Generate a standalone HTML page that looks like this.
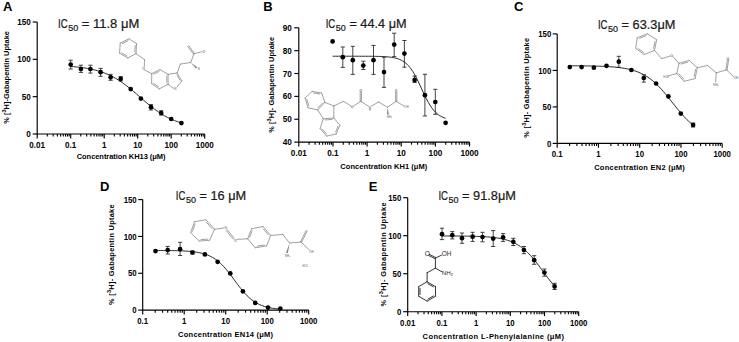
<!DOCTYPE html>
<html><head><meta charset="utf-8"><style>
html,body{margin:0;padding:0;background:#fff;}
svg{display:block;}
text{font-family:'Liberation Sans', sans-serif;}
</style></head><body>
<svg width="739" height="342" viewBox="0 0 739 342">
<rect width="739" height="342" fill="#fff"/>
<path d="M37.2,22.0 V134.0 H204.70" fill="none" stroke="#000" stroke-width="1.15"/>
<path d="M32.7,134.00 H37.2" stroke="#000" stroke-width="1.15"/>
<text transform="translate(30.70,137.10) scale(0.92,1)" font-size="8.8" font-weight="bold" text-anchor="end">0</text>
<path d="M32.7,96.67 H37.2" stroke="#000" stroke-width="1.15"/>
<text transform="translate(30.70,99.77) scale(0.92,1)" font-size="8.8" font-weight="bold" text-anchor="end">50</text>
<path d="M32.7,59.33 H37.2" stroke="#000" stroke-width="1.15"/>
<text transform="translate(30.70,62.43) scale(0.92,1)" font-size="8.8" font-weight="bold" text-anchor="end">100</text>
<path d="M32.7,22.00 H37.2" stroke="#000" stroke-width="1.15"/>
<text transform="translate(30.70,25.10) scale(0.92,1)" font-size="8.8" font-weight="bold" text-anchor="end">150</text>
<path d="M37.20,134.0 V138.4" stroke="#000" stroke-width="1.15"/>
<text transform="translate(37.20,148.30) scale(0.92,1)" font-size="8.8" font-weight="bold" text-anchor="middle">0.01</text>
<path d="M47.28,134.0 V136.6" stroke="#000" stroke-width="1.1"/>
<path d="M53.18,134.0 V136.6" stroke="#000" stroke-width="1.1"/>
<path d="M57.37,134.0 V136.6" stroke="#000" stroke-width="1.1"/>
<path d="M60.62,134.0 V136.6" stroke="#000" stroke-width="1.1"/>
<path d="M63.27,134.0 V136.6" stroke="#000" stroke-width="1.1"/>
<path d="M65.51,134.0 V136.6" stroke="#000" stroke-width="1.1"/>
<path d="M67.45,134.0 V136.6" stroke="#000" stroke-width="1.1"/>
<path d="M69.17,134.0 V136.6" stroke="#000" stroke-width="1.1"/>
<path d="M70.70,134.0 V138.4" stroke="#000" stroke-width="1.15"/>
<text transform="translate(70.70,148.30) scale(0.92,1)" font-size="8.8" font-weight="bold" text-anchor="middle">0.1</text>
<path d="M80.78,134.0 V136.6" stroke="#000" stroke-width="1.1"/>
<path d="M86.68,134.0 V136.6" stroke="#000" stroke-width="1.1"/>
<path d="M90.87,134.0 V136.6" stroke="#000" stroke-width="1.1"/>
<path d="M94.12,134.0 V136.6" stroke="#000" stroke-width="1.1"/>
<path d="M96.77,134.0 V136.6" stroke="#000" stroke-width="1.1"/>
<path d="M99.01,134.0 V136.6" stroke="#000" stroke-width="1.1"/>
<path d="M100.95,134.0 V136.6" stroke="#000" stroke-width="1.1"/>
<path d="M102.67,134.0 V136.6" stroke="#000" stroke-width="1.1"/>
<path d="M104.20,134.0 V138.4" stroke="#000" stroke-width="1.15"/>
<text transform="translate(104.20,148.30) scale(0.92,1)" font-size="8.8" font-weight="bold" text-anchor="middle">1</text>
<path d="M114.28,134.0 V136.6" stroke="#000" stroke-width="1.1"/>
<path d="M120.18,134.0 V136.6" stroke="#000" stroke-width="1.1"/>
<path d="M124.37,134.0 V136.6" stroke="#000" stroke-width="1.1"/>
<path d="M127.62,134.0 V136.6" stroke="#000" stroke-width="1.1"/>
<path d="M130.27,134.0 V136.6" stroke="#000" stroke-width="1.1"/>
<path d="M132.51,134.0 V136.6" stroke="#000" stroke-width="1.1"/>
<path d="M134.45,134.0 V136.6" stroke="#000" stroke-width="1.1"/>
<path d="M136.17,134.0 V136.6" stroke="#000" stroke-width="1.1"/>
<path d="M137.70,134.0 V138.4" stroke="#000" stroke-width="1.15"/>
<text transform="translate(137.70,148.30) scale(0.92,1)" font-size="8.8" font-weight="bold" text-anchor="middle">10</text>
<path d="M147.78,134.0 V136.6" stroke="#000" stroke-width="1.1"/>
<path d="M153.68,134.0 V136.6" stroke="#000" stroke-width="1.1"/>
<path d="M157.87,134.0 V136.6" stroke="#000" stroke-width="1.1"/>
<path d="M161.12,134.0 V136.6" stroke="#000" stroke-width="1.1"/>
<path d="M163.77,134.0 V136.6" stroke="#000" stroke-width="1.1"/>
<path d="M166.01,134.0 V136.6" stroke="#000" stroke-width="1.1"/>
<path d="M167.95,134.0 V136.6" stroke="#000" stroke-width="1.1"/>
<path d="M169.67,134.0 V136.6" stroke="#000" stroke-width="1.1"/>
<path d="M171.20,134.0 V138.4" stroke="#000" stroke-width="1.15"/>
<text transform="translate(171.20,148.30) scale(0.92,1)" font-size="8.8" font-weight="bold" text-anchor="middle">100</text>
<path d="M181.28,134.0 V136.6" stroke="#000" stroke-width="1.1"/>
<path d="M187.18,134.0 V136.6" stroke="#000" stroke-width="1.1"/>
<path d="M191.37,134.0 V136.6" stroke="#000" stroke-width="1.1"/>
<path d="M194.62,134.0 V136.6" stroke="#000" stroke-width="1.1"/>
<path d="M197.27,134.0 V136.6" stroke="#000" stroke-width="1.1"/>
<path d="M199.51,134.0 V136.6" stroke="#000" stroke-width="1.1"/>
<path d="M201.45,134.0 V136.6" stroke="#000" stroke-width="1.1"/>
<path d="M203.17,134.0 V136.6" stroke="#000" stroke-width="1.1"/>
<path d="M204.70,134.0 V138.4" stroke="#000" stroke-width="1.15"/>
<text transform="translate(204.70,148.30) scale(0.92,1)" font-size="8.8" font-weight="bold" text-anchor="middle">1000</text>
<text x="76.70" y="159.40" font-size="7.5" font-weight="bold" textLength="88.8" lengthAdjust="spacing">Concentration KH13 (μM)</text>
<text transform="translate(8.5,77.4) rotate(-90)" x="0" y="0" font-size="7.4" font-weight="bold" text-anchor="middle" textLength="92.8" lengthAdjust="spacing">% [<tspan baseline-shift="super" font-size="5.6">3</tspan>H]-Gabapentin Uptake</text>
<text x="2.9" y="10.8" font-size="13" font-weight="bold" text-anchor="start" fill="#000" >A</text>
<text x="58.1" y="28.3" font-size="12.6" font-weight="normal" text-anchor="start" fill="#1a1a1a" textLength="9.6" lengthAdjust="spacingAndGlyphs"  stroke="#1a1a1a" stroke-width="0.22">IC</text>
<text x="68.2" y="31.2" font-size="9" font-weight="normal" text-anchor="start" fill="#1a1a1a" textLength="10.0" lengthAdjust="spacingAndGlyphs"  stroke="#1a1a1a" stroke-width="0.22">50</text>
<text x="81.8" y="28.3" font-size="12.6" font-weight="normal" text-anchor="start" fill="#1a1a1a" textLength="57.5" lengthAdjust="spacingAndGlyphs"  stroke="#1a1a1a" stroke-width="0.22">= 11.8 μM</text>
<path d="M70.70,66.44 L72.10,66.55 L73.50,66.67 L74.90,66.79 L76.31,66.93 L77.71,67.07 L79.11,67.23 L80.51,67.40 L81.91,67.58 L83.31,67.77 L84.71,67.98 L86.11,68.20 L87.52,68.44 L88.92,68.70 L90.32,68.97 L91.72,69.26 L93.12,69.58 L94.52,69.91 L95.92,70.27 L97.32,70.65 L98.73,71.06 L100.13,71.49 L101.53,71.95 L102.93,72.44 L104.33,72.96 L105.73,73.51 L107.13,74.09 L108.53,74.71 L109.94,75.35 L111.34,76.04 L112.74,76.76 L114.14,77.51 L115.54,78.30 L116.94,79.13 L118.34,80.00 L119.74,80.90 L121.15,81.83 L122.55,82.81 L123.95,83.81 L125.35,84.85 L126.75,85.92 L128.15,87.01 L129.55,88.14 L130.95,89.28 L132.36,90.45 L133.76,91.64 L135.16,92.84 L136.56,94.06 L137.96,95.28 L139.36,96.51 L140.76,97.74 L142.16,98.96 L143.57,100.18 L144.97,101.39 L146.37,102.59 L147.77,103.77 L149.17,104.94 L150.57,106.08 L151.97,107.19 L153.37,108.28 L154.78,109.33 L156.18,110.36 L157.58,111.35 L158.98,112.31 L160.38,113.24 L161.78,114.13 L163.18,114.98 L164.58,115.79 L165.99,116.57 L167.39,117.32 L168.79,118.02 L170.19,118.69 L171.59,119.33 L172.99,119.94 L174.39,120.51 L175.79,121.05 L177.20,121.55 L178.60,122.03 L180.00,122.48 L181.40,122.91" fill="none" stroke="#111" stroke-width="0.9"/>
<path d="M70.70,60.20 V69.00 M68.60,60.20 H72.80 M68.60,69.00 H72.80" stroke="#222" stroke-width="0.85" fill="none"/>
<path d="M80.90,65.20 V72.40 M78.80,65.20 H83.00 M78.80,72.40 H83.00" stroke="#222" stroke-width="0.85" fill="none"/>
<path d="M90.40,65.20 V73.10 M88.30,65.20 H92.50 M88.30,73.10 H92.50" stroke="#222" stroke-width="0.85" fill="none"/>
<path d="M100.60,68.40 V76.30 M98.50,68.40 H102.70 M98.50,76.30 H102.70" stroke="#222" stroke-width="0.85" fill="none"/>
<path d="M110.60,74.40 V80.30 M108.50,74.40 H112.70 M108.50,80.30 H112.70" stroke="#222" stroke-width="0.85" fill="none"/>
<path d="M120.70,76.60 V81.00 M118.60,76.60 H122.80 M118.60,81.00 H122.80" stroke="#222" stroke-width="0.85" fill="none"/>
<path d="M151.00,104.60 V110.00 M148.90,104.60 H153.10 M148.90,110.00 H153.10" stroke="#222" stroke-width="0.85" fill="none"/>
<path d="M161.20,110.70 V115.10 M159.10,110.70 H163.30 M159.10,115.10 H163.30" stroke="#222" stroke-width="0.85" fill="none"/>
<circle cx="70.70" cy="64.60" r="2.35" fill="#000"/>
<circle cx="80.90" cy="69.00" r="2.35" fill="#000"/>
<circle cx="90.40" cy="69.00" r="2.35" fill="#000"/>
<circle cx="100.60" cy="72.20" r="2.35" fill="#000"/>
<circle cx="110.60" cy="77.30" r="2.35" fill="#000"/>
<circle cx="120.70" cy="78.80" r="2.35" fill="#000"/>
<circle cx="130.70" cy="89.10" r="2.35" fill="#000"/>
<circle cx="140.90" cy="98.60" r="2.35" fill="#000"/>
<circle cx="151.00" cy="107.20" r="2.35" fill="#000"/>
<circle cx="161.20" cy="113.00" r="2.35" fill="#000"/>
<circle cx="171.20" cy="119.00" r="2.35" fill="#000"/>
<circle cx="181.40" cy="123.10" r="2.35" fill="#000"/>
<path d="M298.8,27.8 V142.1 H469.55" fill="none" stroke="#000" stroke-width="1.15"/>
<path d="M294.3,142.10 H298.8" stroke="#000" stroke-width="1.15"/>
<text transform="translate(291.90,145.20) scale(0.92,1)" font-size="8.9" font-weight="bold" text-anchor="end">40</text>
<path d="M294.3,119.24 H298.8" stroke="#000" stroke-width="1.15"/>
<text transform="translate(291.90,122.34) scale(0.92,1)" font-size="8.9" font-weight="bold" text-anchor="end">50</text>
<path d="M294.3,96.38 H298.8" stroke="#000" stroke-width="1.15"/>
<text transform="translate(291.90,99.48) scale(0.92,1)" font-size="8.9" font-weight="bold" text-anchor="end">60</text>
<path d="M294.3,73.52 H298.8" stroke="#000" stroke-width="1.15"/>
<text transform="translate(291.90,76.62) scale(0.92,1)" font-size="8.9" font-weight="bold" text-anchor="end">70</text>
<path d="M294.3,50.66 H298.8" stroke="#000" stroke-width="1.15"/>
<text transform="translate(291.90,53.76) scale(0.92,1)" font-size="8.9" font-weight="bold" text-anchor="end">80</text>
<path d="M294.3,27.80 H298.8" stroke="#000" stroke-width="1.15"/>
<text transform="translate(291.90,30.90) scale(0.92,1)" font-size="8.9" font-weight="bold" text-anchor="end">90</text>
<path d="M298.80,142.1 V146.5" stroke="#000" stroke-width="1.15"/>
<text transform="translate(298.80,156.40) scale(0.92,1)" font-size="8.9" font-weight="bold" text-anchor="middle">0.01</text>
<path d="M309.08,142.1 V144.7" stroke="#000" stroke-width="1.1"/>
<path d="M315.09,142.1 V144.7" stroke="#000" stroke-width="1.1"/>
<path d="M319.36,142.1 V144.7" stroke="#000" stroke-width="1.1"/>
<path d="M322.67,142.1 V144.7" stroke="#000" stroke-width="1.1"/>
<path d="M325.37,142.1 V144.7" stroke="#000" stroke-width="1.1"/>
<path d="M327.66,142.1 V144.7" stroke="#000" stroke-width="1.1"/>
<path d="M329.64,142.1 V144.7" stroke="#000" stroke-width="1.1"/>
<path d="M331.39,142.1 V144.7" stroke="#000" stroke-width="1.1"/>
<path d="M332.95,142.1 V146.5" stroke="#000" stroke-width="1.15"/>
<text transform="translate(332.95,156.40) scale(0.92,1)" font-size="8.9" font-weight="bold" text-anchor="middle">0.1</text>
<path d="M343.23,142.1 V144.7" stroke="#000" stroke-width="1.1"/>
<path d="M349.24,142.1 V144.7" stroke="#000" stroke-width="1.1"/>
<path d="M353.51,142.1 V144.7" stroke="#000" stroke-width="1.1"/>
<path d="M356.82,142.1 V144.7" stroke="#000" stroke-width="1.1"/>
<path d="M359.52,142.1 V144.7" stroke="#000" stroke-width="1.1"/>
<path d="M361.81,142.1 V144.7" stroke="#000" stroke-width="1.1"/>
<path d="M363.79,142.1 V144.7" stroke="#000" stroke-width="1.1"/>
<path d="M365.54,142.1 V144.7" stroke="#000" stroke-width="1.1"/>
<path d="M367.10,142.1 V146.5" stroke="#000" stroke-width="1.15"/>
<text transform="translate(367.10,156.40) scale(0.92,1)" font-size="8.9" font-weight="bold" text-anchor="middle">1</text>
<path d="M377.38,142.1 V144.7" stroke="#000" stroke-width="1.1"/>
<path d="M383.39,142.1 V144.7" stroke="#000" stroke-width="1.1"/>
<path d="M387.66,142.1 V144.7" stroke="#000" stroke-width="1.1"/>
<path d="M390.97,142.1 V144.7" stroke="#000" stroke-width="1.1"/>
<path d="M393.67,142.1 V144.7" stroke="#000" stroke-width="1.1"/>
<path d="M395.96,142.1 V144.7" stroke="#000" stroke-width="1.1"/>
<path d="M397.94,142.1 V144.7" stroke="#000" stroke-width="1.1"/>
<path d="M399.69,142.1 V144.7" stroke="#000" stroke-width="1.1"/>
<path d="M401.25,142.1 V146.5" stroke="#000" stroke-width="1.15"/>
<text transform="translate(401.25,156.40) scale(0.92,1)" font-size="8.9" font-weight="bold" text-anchor="middle">10</text>
<path d="M411.53,142.1 V144.7" stroke="#000" stroke-width="1.1"/>
<path d="M417.54,142.1 V144.7" stroke="#000" stroke-width="1.1"/>
<path d="M421.81,142.1 V144.7" stroke="#000" stroke-width="1.1"/>
<path d="M425.12,142.1 V144.7" stroke="#000" stroke-width="1.1"/>
<path d="M427.82,142.1 V144.7" stroke="#000" stroke-width="1.1"/>
<path d="M430.11,142.1 V144.7" stroke="#000" stroke-width="1.1"/>
<path d="M432.09,142.1 V144.7" stroke="#000" stroke-width="1.1"/>
<path d="M433.84,142.1 V144.7" stroke="#000" stroke-width="1.1"/>
<path d="M435.40,142.1 V146.5" stroke="#000" stroke-width="1.15"/>
<text transform="translate(435.40,156.40) scale(0.92,1)" font-size="8.9" font-weight="bold" text-anchor="middle">100</text>
<path d="M445.68,142.1 V144.7" stroke="#000" stroke-width="1.1"/>
<path d="M451.69,142.1 V144.7" stroke="#000" stroke-width="1.1"/>
<path d="M455.96,142.1 V144.7" stroke="#000" stroke-width="1.1"/>
<path d="M459.27,142.1 V144.7" stroke="#000" stroke-width="1.1"/>
<path d="M461.97,142.1 V144.7" stroke="#000" stroke-width="1.1"/>
<path d="M464.26,142.1 V144.7" stroke="#000" stroke-width="1.1"/>
<path d="M466.24,142.1 V144.7" stroke="#000" stroke-width="1.1"/>
<path d="M467.99,142.1 V144.7" stroke="#000" stroke-width="1.1"/>
<path d="M469.55,142.1 V146.5" stroke="#000" stroke-width="1.15"/>
<text transform="translate(469.55,156.40) scale(0.92,1)" font-size="8.9" font-weight="bold" text-anchor="middle">1000</text>
<text x="340.30" y="168.50" font-size="7.5" font-weight="bold" textLength="87.0" lengthAdjust="spacing">Concentration KH1 (μM)</text>
<text transform="translate(273.6,84.8) rotate(-90)" x="0" y="0" font-size="7.4" font-weight="bold" text-anchor="middle" textLength="96.0" lengthAdjust="spacing">% [<tspan baseline-shift="super" font-size="5.6">3</tspan>H]- Gabapentin Uptake</text>
<text x="263.2" y="11.0" font-size="13" font-weight="bold" text-anchor="start" fill="#000" >B</text>
<text x="325.7" y="28.3" font-size="12.6" font-weight="normal" text-anchor="start" fill="#1a1a1a" textLength="9.6" lengthAdjust="spacingAndGlyphs"  stroke="#1a1a1a" stroke-width="0.22">IC</text>
<text x="335.8" y="31.2" font-size="9" font-weight="normal" text-anchor="start" fill="#1a1a1a" textLength="10.0" lengthAdjust="spacingAndGlyphs"  stroke="#1a1a1a" stroke-width="0.22">50</text>
<text x="349.4" y="28.3" font-size="12.6" font-weight="normal" text-anchor="start" fill="#1a1a1a" textLength="57.2" lengthAdjust="spacingAndGlyphs"  stroke="#1a1a1a" stroke-width="0.22">= 44.4 μM</text>
<path d="M332.60,56.22 L334.03,56.22 L335.46,56.22 L336.89,56.22 L338.32,56.22 L339.75,56.22 L341.18,56.22 L342.61,56.22 L344.04,56.22 L345.47,56.23 L346.90,56.23 L348.33,56.23 L349.76,56.23 L351.19,56.23 L352.63,56.23 L354.06,56.23 L355.49,56.23 L356.92,56.23 L358.35,56.24 L359.78,56.24 L361.21,56.24 L362.64,56.25 L364.07,56.25 L365.50,56.26 L366.93,56.26 L368.36,56.27 L369.79,56.28 L371.22,56.29 L372.65,56.31 L374.08,56.33 L375.51,56.35 L376.94,56.38 L378.37,56.41 L379.80,56.45 L381.23,56.50 L382.66,56.56 L384.09,56.63 L385.52,56.72 L386.95,56.82 L388.38,56.95 L389.82,57.10 L391.25,57.29 L392.68,57.51 L394.11,57.78 L395.54,58.10 L396.97,58.49 L398.40,58.95 L399.83,59.50 L401.26,60.16 L402.69,60.94 L404.12,61.86 L405.55,62.94 L406.98,64.19 L408.41,65.65 L409.84,67.31 L411.27,69.20 L412.70,71.32 L414.13,73.67 L415.56,76.24 L416.99,79.01 L418.42,81.93 L419.85,84.97 L421.28,88.07 L422.71,91.18 L424.14,94.24 L425.57,97.19 L427.01,100.00 L428.44,102.61 L429.87,105.01 L431.30,107.19 L432.73,109.13 L434.16,110.85 L435.59,112.35 L437.02,113.65 L438.45,114.77 L439.88,115.72 L441.31,116.53 L442.74,117.21 L444.17,117.79 L445.60,118.27" fill="none" stroke="#111" stroke-width="0.9"/>
<path d="M342.80,47.00 V67.40 M340.70,47.00 H344.90 M340.70,67.40 H344.90" stroke="#222" stroke-width="0.85" fill="none"/>
<path d="M352.80,46.30 V74.40 M350.70,46.30 H354.90 M350.70,74.40 H354.90" stroke="#222" stroke-width="0.85" fill="none"/>
<path d="M363.30,61.20 V69.50 M361.20,61.20 H365.40 M361.20,69.50 H365.40" stroke="#222" stroke-width="0.85" fill="none"/>
<path d="M373.50,45.40 V74.40 M371.40,45.40 H375.60 M371.40,74.40 H375.60" stroke="#222" stroke-width="0.85" fill="none"/>
<path d="M384.00,57.20 V87.40 M381.90,57.20 H386.10 M381.90,87.40 H386.10" stroke="#222" stroke-width="0.85" fill="none"/>
<path d="M394.20,33.20 V56.60 M392.10,33.20 H396.30 M392.10,56.60 H396.30" stroke="#222" stroke-width="0.85" fill="none"/>
<path d="M404.40,40.50 V67.20 M402.30,40.50 H406.50 M402.30,67.20 H406.50" stroke="#222" stroke-width="0.85" fill="none"/>
<path d="M414.60,76.00 V82.50 M412.50,76.00 H416.70 M412.50,82.50 H416.70" stroke="#222" stroke-width="0.85" fill="none"/>
<path d="M424.90,74.30 V116.00 M422.80,74.30 H427.00 M422.80,116.00 H427.00" stroke="#222" stroke-width="0.85" fill="none"/>
<path d="M435.30,89.30 V114.30 M433.20,89.30 H437.40 M433.20,114.30 H437.40" stroke="#222" stroke-width="0.85" fill="none"/>
<circle cx="332.60" cy="41.40" r="2.35" fill="#000"/>
<circle cx="342.80" cy="57.20" r="2.35" fill="#000"/>
<circle cx="352.80" cy="60.20" r="2.35" fill="#000"/>
<circle cx="363.30" cy="65.60" r="2.35" fill="#000"/>
<circle cx="373.50" cy="60.20" r="2.35" fill="#000"/>
<circle cx="384.00" cy="72.10" r="2.35" fill="#000"/>
<circle cx="394.20" cy="44.60" r="2.35" fill="#000"/>
<circle cx="404.40" cy="53.60" r="2.35" fill="#000"/>
<circle cx="414.60" cy="79.90" r="2.35" fill="#000"/>
<circle cx="424.90" cy="95.20" r="2.35" fill="#000"/>
<circle cx="435.30" cy="102.00" r="2.35" fill="#000"/>
<circle cx="445.60" cy="122.80" r="2.35" fill="#000"/>
<path d="M557.2,33.9 V143.4 H722.20" fill="none" stroke="#000" stroke-width="1.15"/>
<path d="M552.7,143.40 H557.2" stroke="#000" stroke-width="1.15"/>
<text transform="translate(551.30,146.50) scale(0.92,1)" font-size="8.5" font-weight="bold" text-anchor="end">0</text>
<path d="M552.7,106.90 H557.2" stroke="#000" stroke-width="1.15"/>
<text transform="translate(551.30,110.00) scale(0.92,1)" font-size="8.5" font-weight="bold" text-anchor="end">50</text>
<path d="M552.7,70.40 H557.2" stroke="#000" stroke-width="1.15"/>
<text transform="translate(551.30,73.50) scale(0.92,1)" font-size="8.5" font-weight="bold" text-anchor="end">100</text>
<path d="M552.7,33.90 H557.2" stroke="#000" stroke-width="1.15"/>
<text transform="translate(551.30,37.00) scale(0.92,1)" font-size="8.5" font-weight="bold" text-anchor="end">150</text>
<path d="M557.20,143.4 V147.8" stroke="#000" stroke-width="1.15"/>
<text transform="translate(557.20,157.00) scale(0.92,1)" font-size="8.5" font-weight="bold" text-anchor="middle">0.1</text>
<path d="M569.62,143.4 V146.0" stroke="#000" stroke-width="1.1"/>
<path d="M576.88,143.4 V146.0" stroke="#000" stroke-width="1.1"/>
<path d="M582.03,143.4 V146.0" stroke="#000" stroke-width="1.1"/>
<path d="M586.03,143.4 V146.0" stroke="#000" stroke-width="1.1"/>
<path d="M589.30,143.4 V146.0" stroke="#000" stroke-width="1.1"/>
<path d="M592.06,143.4 V146.0" stroke="#000" stroke-width="1.1"/>
<path d="M594.45,143.4 V146.0" stroke="#000" stroke-width="1.1"/>
<path d="M596.56,143.4 V146.0" stroke="#000" stroke-width="1.1"/>
<path d="M598.45,143.4 V147.8" stroke="#000" stroke-width="1.15"/>
<text transform="translate(598.45,157.00) scale(0.92,1)" font-size="8.5" font-weight="bold" text-anchor="middle">1</text>
<path d="M610.87,143.4 V146.0" stroke="#000" stroke-width="1.1"/>
<path d="M618.13,143.4 V146.0" stroke="#000" stroke-width="1.1"/>
<path d="M623.28,143.4 V146.0" stroke="#000" stroke-width="1.1"/>
<path d="M627.28,143.4 V146.0" stroke="#000" stroke-width="1.1"/>
<path d="M630.55,143.4 V146.0" stroke="#000" stroke-width="1.1"/>
<path d="M633.31,143.4 V146.0" stroke="#000" stroke-width="1.1"/>
<path d="M635.70,143.4 V146.0" stroke="#000" stroke-width="1.1"/>
<path d="M637.81,143.4 V146.0" stroke="#000" stroke-width="1.1"/>
<path d="M639.70,143.4 V147.8" stroke="#000" stroke-width="1.15"/>
<text transform="translate(639.70,157.00) scale(0.92,1)" font-size="8.5" font-weight="bold" text-anchor="middle">10</text>
<path d="M652.12,143.4 V146.0" stroke="#000" stroke-width="1.1"/>
<path d="M659.38,143.4 V146.0" stroke="#000" stroke-width="1.1"/>
<path d="M664.53,143.4 V146.0" stroke="#000" stroke-width="1.1"/>
<path d="M668.53,143.4 V146.0" stroke="#000" stroke-width="1.1"/>
<path d="M671.80,143.4 V146.0" stroke="#000" stroke-width="1.1"/>
<path d="M674.56,143.4 V146.0" stroke="#000" stroke-width="1.1"/>
<path d="M676.95,143.4 V146.0" stroke="#000" stroke-width="1.1"/>
<path d="M679.06,143.4 V146.0" stroke="#000" stroke-width="1.1"/>
<path d="M680.95,143.4 V147.8" stroke="#000" stroke-width="1.15"/>
<text transform="translate(680.95,157.00) scale(0.92,1)" font-size="8.5" font-weight="bold" text-anchor="middle">100</text>
<path d="M693.37,143.4 V146.0" stroke="#000" stroke-width="1.1"/>
<path d="M700.63,143.4 V146.0" stroke="#000" stroke-width="1.1"/>
<path d="M705.78,143.4 V146.0" stroke="#000" stroke-width="1.1"/>
<path d="M709.78,143.4 V146.0" stroke="#000" stroke-width="1.1"/>
<path d="M713.05,143.4 V146.0" stroke="#000" stroke-width="1.1"/>
<path d="M715.81,143.4 V146.0" stroke="#000" stroke-width="1.1"/>
<path d="M718.20,143.4 V146.0" stroke="#000" stroke-width="1.1"/>
<path d="M720.31,143.4 V146.0" stroke="#000" stroke-width="1.1"/>
<path d="M722.20,143.4 V147.8" stroke="#000" stroke-width="1.15"/>
<text transform="translate(722.20,157.00) scale(0.92,1)" font-size="8.5" font-weight="bold" text-anchor="middle">1000</text>
<text x="594.20" y="169.60" font-size="7.5" font-weight="bold" textLength="90.5" lengthAdjust="spacing">Concentration EN2 (μM)</text>
<text transform="translate(528.8,87.8) rotate(-90)" x="0" y="0" font-size="7.4" font-weight="bold" text-anchor="middle" textLength="99.8" lengthAdjust="spacing">% [<tspan baseline-shift="super" font-size="5.6">3</tspan>H]- Gabapentin Uptake</text>
<text x="514.0" y="11.4" font-size="13" font-weight="bold" text-anchor="start" fill="#000" >C</text>
<text x="597.9" y="29.1" font-size="12.6" font-weight="normal" text-anchor="start" fill="#1a1a1a" textLength="9.6" lengthAdjust="spacingAndGlyphs"  stroke="#1a1a1a" stroke-width="0.22">IC</text>
<text x="608.0" y="32.0" font-size="9" font-weight="normal" text-anchor="start" fill="#1a1a1a" textLength="10.0" lengthAdjust="spacingAndGlyphs"  stroke="#1a1a1a" stroke-width="0.22">50</text>
<text x="621.6" y="29.1" font-size="12.6" font-weight="normal" text-anchor="start" fill="#1a1a1a" textLength="53.8" lengthAdjust="spacingAndGlyphs"  stroke="#1a1a1a" stroke-width="0.22">= 63.3μM</text>
<path d="M569.80,65.79 L571.36,65.79 L572.92,65.80 L574.48,65.81 L576.04,65.82 L577.60,65.83 L579.16,65.85 L580.73,65.86 L582.29,65.87 L583.85,65.89 L585.41,65.91 L586.97,65.93 L588.53,65.95 L590.09,65.98 L591.65,66.01 L593.21,66.04 L594.77,66.08 L596.33,66.12 L597.89,66.16 L599.45,66.21 L601.02,66.27 L602.58,66.33 L604.14,66.39 L605.70,66.47 L607.26,66.55 L608.82,66.65 L610.38,66.75 L611.94,66.86 L613.50,66.99 L615.06,67.13 L616.62,67.29 L618.18,67.46 L619.74,67.65 L621.31,67.86 L622.87,68.10 L624.43,68.36 L625.99,68.64 L627.55,68.96 L629.11,69.31 L630.67,69.69 L632.23,70.11 L633.79,70.58 L635.35,71.09 L636.91,71.64 L638.47,72.25 L640.03,72.92 L641.59,73.65 L643.16,74.44 L644.72,75.30 L646.28,76.23 L647.84,77.23 L649.40,78.31 L650.96,79.47 L652.52,80.71 L654.08,82.03 L655.64,83.43 L657.20,84.92 L658.76,86.48 L660.32,88.11 L661.88,89.82 L663.45,91.59 L665.01,93.42 L666.57,95.30 L668.13,97.21 L669.69,99.16 L671.25,101.13 L672.81,103.11 L674.37,105.08 L675.93,107.04 L677.49,108.97 L679.05,110.87 L680.61,112.72 L682.17,114.52 L683.74,116.26 L685.30,117.93 L686.86,119.52 L688.42,121.04 L689.98,122.49 L691.54,123.85 L693.10,125.12" fill="none" stroke="#111" stroke-width="0.9"/>
<path d="M618.80,56.30 V67.30 M616.70,56.30 H620.90 M616.70,67.30 H620.90" stroke="#222" stroke-width="0.85" fill="none"/>
<path d="M643.80,74.70 V82.10 M641.70,74.70 H645.90 M641.70,82.10 H645.90" stroke="#222" stroke-width="0.85" fill="none"/>
<path d="M693.10,123.00 V127.00 M691.00,123.00 H695.20 M691.00,127.00 H695.20" stroke="#222" stroke-width="0.85" fill="none"/>
<circle cx="569.80" cy="67.10" r="2.35" fill="#000"/>
<circle cx="581.60" cy="67.10" r="2.35" fill="#000"/>
<circle cx="593.90" cy="67.70" r="2.35" fill="#000"/>
<circle cx="606.50" cy="65.80" r="2.35" fill="#000"/>
<circle cx="618.80" cy="61.70" r="2.35" fill="#000"/>
<circle cx="631.40" cy="70.00" r="2.35" fill="#000"/>
<circle cx="643.80" cy="78.00" r="2.35" fill="#000"/>
<circle cx="656.10" cy="83.50" r="2.35" fill="#000"/>
<circle cx="668.40" cy="96.40" r="2.35" fill="#000"/>
<circle cx="680.80" cy="113.60" r="2.35" fill="#000"/>
<circle cx="693.10" cy="125.00" r="2.35" fill="#000"/>
<path d="M142.7,199.6 V310.1 H308.70" fill="none" stroke="#000" stroke-width="1.15"/>
<path d="M138.2,310.10 H142.7" stroke="#000" stroke-width="1.15"/>
<text transform="translate(136.70,313.20) scale(0.92,1)" font-size="8.5" font-weight="bold" text-anchor="end">0</text>
<path d="M138.2,273.27 H142.7" stroke="#000" stroke-width="1.15"/>
<text transform="translate(136.70,276.37) scale(0.92,1)" font-size="8.5" font-weight="bold" text-anchor="end">50</text>
<path d="M138.2,236.43 H142.7" stroke="#000" stroke-width="1.15"/>
<text transform="translate(136.70,239.53) scale(0.92,1)" font-size="8.5" font-weight="bold" text-anchor="end">100</text>
<path d="M138.2,199.60 H142.7" stroke="#000" stroke-width="1.15"/>
<text transform="translate(136.70,202.70) scale(0.92,1)" font-size="8.5" font-weight="bold" text-anchor="end">150</text>
<path d="M142.70,310.1 V314.5" stroke="#000" stroke-width="1.15"/>
<text transform="translate(142.70,324.20) scale(0.92,1)" font-size="8.5" font-weight="bold" text-anchor="middle">0.1</text>
<path d="M155.19,310.1 V312.70000000000005" stroke="#000" stroke-width="1.1"/>
<path d="M162.50,310.1 V312.70000000000005" stroke="#000" stroke-width="1.1"/>
<path d="M167.69,310.1 V312.70000000000005" stroke="#000" stroke-width="1.1"/>
<path d="M171.71,310.1 V312.70000000000005" stroke="#000" stroke-width="1.1"/>
<path d="M174.99,310.1 V312.70000000000005" stroke="#000" stroke-width="1.1"/>
<path d="M177.77,310.1 V312.70000000000005" stroke="#000" stroke-width="1.1"/>
<path d="M180.18,310.1 V312.70000000000005" stroke="#000" stroke-width="1.1"/>
<path d="M182.30,310.1 V312.70000000000005" stroke="#000" stroke-width="1.1"/>
<path d="M184.20,310.1 V314.5" stroke="#000" stroke-width="1.15"/>
<text transform="translate(184.20,324.20) scale(0.92,1)" font-size="8.5" font-weight="bold" text-anchor="middle">1</text>
<path d="M196.69,310.1 V312.70000000000005" stroke="#000" stroke-width="1.1"/>
<path d="M204.00,310.1 V312.70000000000005" stroke="#000" stroke-width="1.1"/>
<path d="M209.19,310.1 V312.70000000000005" stroke="#000" stroke-width="1.1"/>
<path d="M213.21,310.1 V312.70000000000005" stroke="#000" stroke-width="1.1"/>
<path d="M216.49,310.1 V312.70000000000005" stroke="#000" stroke-width="1.1"/>
<path d="M219.27,310.1 V312.70000000000005" stroke="#000" stroke-width="1.1"/>
<path d="M221.68,310.1 V312.70000000000005" stroke="#000" stroke-width="1.1"/>
<path d="M223.80,310.1 V312.70000000000005" stroke="#000" stroke-width="1.1"/>
<path d="M225.70,310.1 V314.5" stroke="#000" stroke-width="1.15"/>
<text transform="translate(225.70,324.20) scale(0.92,1)" font-size="8.5" font-weight="bold" text-anchor="middle">10</text>
<path d="M238.19,310.1 V312.70000000000005" stroke="#000" stroke-width="1.1"/>
<path d="M245.50,310.1 V312.70000000000005" stroke="#000" stroke-width="1.1"/>
<path d="M250.69,310.1 V312.70000000000005" stroke="#000" stroke-width="1.1"/>
<path d="M254.71,310.1 V312.70000000000005" stroke="#000" stroke-width="1.1"/>
<path d="M257.99,310.1 V312.70000000000005" stroke="#000" stroke-width="1.1"/>
<path d="M260.77,310.1 V312.70000000000005" stroke="#000" stroke-width="1.1"/>
<path d="M263.18,310.1 V312.70000000000005" stroke="#000" stroke-width="1.1"/>
<path d="M265.30,310.1 V312.70000000000005" stroke="#000" stroke-width="1.1"/>
<path d="M267.20,310.1 V314.5" stroke="#000" stroke-width="1.15"/>
<text transform="translate(267.20,324.20) scale(0.92,1)" font-size="8.5" font-weight="bold" text-anchor="middle">100</text>
<path d="M279.69,310.1 V312.70000000000005" stroke="#000" stroke-width="1.1"/>
<path d="M287.00,310.1 V312.70000000000005" stroke="#000" stroke-width="1.1"/>
<path d="M292.19,310.1 V312.70000000000005" stroke="#000" stroke-width="1.1"/>
<path d="M296.21,310.1 V312.70000000000005" stroke="#000" stroke-width="1.1"/>
<path d="M299.49,310.1 V312.70000000000005" stroke="#000" stroke-width="1.1"/>
<path d="M302.27,310.1 V312.70000000000005" stroke="#000" stroke-width="1.1"/>
<path d="M304.68,310.1 V312.70000000000005" stroke="#000" stroke-width="1.1"/>
<path d="M306.80,310.1 V312.70000000000005" stroke="#000" stroke-width="1.1"/>
<path d="M308.70,310.1 V314.5" stroke="#000" stroke-width="1.15"/>
<text transform="translate(308.70,324.20) scale(0.92,1)" font-size="8.5" font-weight="bold" text-anchor="middle">1000</text>
<text x="178.10" y="336.70" font-size="7.5" font-weight="bold" textLength="95.0" lengthAdjust="spacing">Concentration EN14 (μM)</text>
<text transform="translate(113.8,254.7) rotate(-90)" x="0" y="0" font-size="7.4" font-weight="bold" text-anchor="middle" textLength="100.6" lengthAdjust="spacing">% [<tspan baseline-shift="super" font-size="5.6">3</tspan>H]- Gabapentin Uptake</text>
<text x="100.0" y="190.8" font-size="13" font-weight="bold" text-anchor="start" fill="#000" >D</text>
<text x="175.8" y="199.6" font-size="12.6" font-weight="normal" text-anchor="start" fill="#1a1a1a" textLength="9.6" lengthAdjust="spacingAndGlyphs"  stroke="#1a1a1a" stroke-width="0.22">IC</text>
<text x="185.9" y="202.5" font-size="9" font-weight="normal" text-anchor="start" fill="#1a1a1a" textLength="10.0" lengthAdjust="spacingAndGlyphs"  stroke="#1a1a1a" stroke-width="0.22">50</text>
<text x="199.5" y="199.6" font-size="12.6" font-weight="normal" text-anchor="start" fill="#1a1a1a" textLength="46.7" lengthAdjust="spacingAndGlyphs"  stroke="#1a1a1a" stroke-width="0.22">= 16 μM</text>
<path d="M155.50,250.44 L157.08,250.44 L158.66,250.45 L160.24,250.46 L161.82,250.47 L163.40,250.48 L164.98,250.50 L166.56,250.51 L168.14,250.53 L169.72,250.55 L171.30,250.58 L172.88,250.60 L174.46,250.64 L176.04,250.68 L177.62,250.72 L179.20,250.77 L180.78,250.83 L182.36,250.89 L183.94,250.97 L185.52,251.06 L187.09,251.16 L188.67,251.28 L190.25,251.42 L191.83,251.57 L193.41,251.75 L194.99,251.96 L196.57,252.19 L198.15,252.46 L199.73,252.77 L201.31,253.12 L202.89,253.52 L204.47,253.98 L206.05,254.50 L207.63,255.09 L209.21,255.75 L210.79,256.50 L212.37,257.34 L213.95,258.28 L215.53,259.32 L217.11,260.48 L218.69,261.74 L220.27,263.13 L221.85,264.64 L223.43,266.27 L225.01,268.01 L226.59,269.85 L228.17,271.79 L229.75,273.81 L231.33,275.90 L232.91,278.03 L234.49,280.18 L236.07,282.33 L237.65,284.46 L239.23,286.55 L240.81,288.57 L242.39,290.51 L243.97,292.36 L245.55,294.11 L247.13,295.74 L248.71,297.25 L250.28,298.64 L251.86,299.91 L253.44,301.07 L255.02,302.12 L256.60,303.06 L258.18,303.90 L259.76,304.66 L261.34,305.32 L262.92,305.91 L264.50,306.44 L266.08,306.90 L267.66,307.30 L269.24,307.65 L270.82,307.97 L272.40,308.24 L273.98,308.47 L275.56,308.68 L277.14,308.86 L278.72,309.02 L280.30,309.15" fill="none" stroke="#111" stroke-width="0.9"/>
<path d="M167.70,246.40 V254.00 M165.60,246.40 H169.80 M165.60,254.00 H169.80" stroke="#222" stroke-width="0.85" fill="none"/>
<path d="M180.10,242.30 V255.50 M178.00,242.30 H182.20 M178.00,255.50 H182.20" stroke="#222" stroke-width="0.85" fill="none"/>
<path d="M192.50,251.00 V254.00 M190.40,251.00 H194.60 M190.40,254.00 H194.60" stroke="#222" stroke-width="0.85" fill="none"/>
<circle cx="155.50" cy="251.10" r="2.35" fill="#000"/>
<circle cx="167.70" cy="250.10" r="2.35" fill="#000"/>
<circle cx="180.10" cy="249.20" r="2.35" fill="#000"/>
<circle cx="192.50" cy="252.50" r="2.35" fill="#000"/>
<circle cx="204.90" cy="254.40" r="2.35" fill="#000"/>
<circle cx="217.60" cy="261.80" r="2.35" fill="#000"/>
<circle cx="230.30" cy="273.40" r="2.35" fill="#000"/>
<circle cx="242.90" cy="291.30" r="2.35" fill="#000"/>
<circle cx="255.20" cy="302.90" r="2.35" fill="#000"/>
<circle cx="268.00" cy="307.60" r="2.35" fill="#000"/>
<circle cx="280.30" cy="308.50" r="2.35" fill="#000"/>
<path d="M407.7,197.7 V311.7 H578.70" fill="none" stroke="#000" stroke-width="1.15"/>
<path d="M403.2,311.70 H407.7" stroke="#000" stroke-width="1.15"/>
<text transform="translate(401.30,314.80) scale(0.92,1)" font-size="8.5" font-weight="bold" text-anchor="end">0</text>
<path d="M403.2,273.70 H407.7" stroke="#000" stroke-width="1.15"/>
<text transform="translate(401.30,276.80) scale(0.92,1)" font-size="8.5" font-weight="bold" text-anchor="end">50</text>
<path d="M403.2,235.70 H407.7" stroke="#000" stroke-width="1.15"/>
<text transform="translate(401.30,238.80) scale(0.92,1)" font-size="8.5" font-weight="bold" text-anchor="end">100</text>
<path d="M403.2,197.70 H407.7" stroke="#000" stroke-width="1.15"/>
<text transform="translate(401.30,200.80) scale(0.92,1)" font-size="8.5" font-weight="bold" text-anchor="end">150</text>
<path d="M407.70,311.7 V316.09999999999997" stroke="#000" stroke-width="1.15"/>
<text transform="translate(407.70,326.00) scale(0.92,1)" font-size="8.5" font-weight="bold" text-anchor="middle">0.01</text>
<path d="M418.00,311.7 V314.3" stroke="#000" stroke-width="1.1"/>
<path d="M424.02,311.7 V314.3" stroke="#000" stroke-width="1.1"/>
<path d="M428.29,311.7 V314.3" stroke="#000" stroke-width="1.1"/>
<path d="M431.60,311.7 V314.3" stroke="#000" stroke-width="1.1"/>
<path d="M434.31,311.7 V314.3" stroke="#000" stroke-width="1.1"/>
<path d="M436.60,311.7 V314.3" stroke="#000" stroke-width="1.1"/>
<path d="M438.59,311.7 V314.3" stroke="#000" stroke-width="1.1"/>
<path d="M440.34,311.7 V314.3" stroke="#000" stroke-width="1.1"/>
<path d="M441.90,311.7 V316.09999999999997" stroke="#000" stroke-width="1.15"/>
<text transform="translate(441.90,326.00) scale(0.92,1)" font-size="8.5" font-weight="bold" text-anchor="middle">0.1</text>
<path d="M452.20,311.7 V314.3" stroke="#000" stroke-width="1.1"/>
<path d="M458.22,311.7 V314.3" stroke="#000" stroke-width="1.1"/>
<path d="M462.49,311.7 V314.3" stroke="#000" stroke-width="1.1"/>
<path d="M465.80,311.7 V314.3" stroke="#000" stroke-width="1.1"/>
<path d="M468.51,311.7 V314.3" stroke="#000" stroke-width="1.1"/>
<path d="M470.80,311.7 V314.3" stroke="#000" stroke-width="1.1"/>
<path d="M472.79,311.7 V314.3" stroke="#000" stroke-width="1.1"/>
<path d="M474.54,311.7 V314.3" stroke="#000" stroke-width="1.1"/>
<path d="M476.10,311.7 V316.09999999999997" stroke="#000" stroke-width="1.15"/>
<text transform="translate(476.10,326.00) scale(0.92,1)" font-size="8.5" font-weight="bold" text-anchor="middle">1</text>
<path d="M486.40,311.7 V314.3" stroke="#000" stroke-width="1.1"/>
<path d="M492.42,311.7 V314.3" stroke="#000" stroke-width="1.1"/>
<path d="M496.69,311.7 V314.3" stroke="#000" stroke-width="1.1"/>
<path d="M500.00,311.7 V314.3" stroke="#000" stroke-width="1.1"/>
<path d="M502.71,311.7 V314.3" stroke="#000" stroke-width="1.1"/>
<path d="M505.00,311.7 V314.3" stroke="#000" stroke-width="1.1"/>
<path d="M506.99,311.7 V314.3" stroke="#000" stroke-width="1.1"/>
<path d="M508.74,311.7 V314.3" stroke="#000" stroke-width="1.1"/>
<path d="M510.30,311.7 V316.09999999999997" stroke="#000" stroke-width="1.15"/>
<text transform="translate(510.30,326.00) scale(0.92,1)" font-size="8.5" font-weight="bold" text-anchor="middle">10</text>
<path d="M520.60,311.7 V314.3" stroke="#000" stroke-width="1.1"/>
<path d="M526.62,311.7 V314.3" stroke="#000" stroke-width="1.1"/>
<path d="M530.89,311.7 V314.3" stroke="#000" stroke-width="1.1"/>
<path d="M534.20,311.7 V314.3" stroke="#000" stroke-width="1.1"/>
<path d="M536.91,311.7 V314.3" stroke="#000" stroke-width="1.1"/>
<path d="M539.20,311.7 V314.3" stroke="#000" stroke-width="1.1"/>
<path d="M541.19,311.7 V314.3" stroke="#000" stroke-width="1.1"/>
<path d="M542.94,311.7 V314.3" stroke="#000" stroke-width="1.1"/>
<path d="M544.50,311.7 V316.09999999999997" stroke="#000" stroke-width="1.15"/>
<text transform="translate(544.50,326.00) scale(0.92,1)" font-size="8.5" font-weight="bold" text-anchor="middle">100</text>
<path d="M554.80,311.7 V314.3" stroke="#000" stroke-width="1.1"/>
<path d="M560.82,311.7 V314.3" stroke="#000" stroke-width="1.1"/>
<path d="M565.09,311.7 V314.3" stroke="#000" stroke-width="1.1"/>
<path d="M568.40,311.7 V314.3" stroke="#000" stroke-width="1.1"/>
<path d="M571.11,311.7 V314.3" stroke="#000" stroke-width="1.1"/>
<path d="M573.40,311.7 V314.3" stroke="#000" stroke-width="1.1"/>
<path d="M575.39,311.7 V314.3" stroke="#000" stroke-width="1.1"/>
<path d="M577.14,311.7 V314.3" stroke="#000" stroke-width="1.1"/>
<path d="M578.70,311.7 V316.09999999999997" stroke="#000" stroke-width="1.15"/>
<text transform="translate(578.70,326.00) scale(0.92,1)" font-size="8.5" font-weight="bold" text-anchor="middle">1000</text>
<text x="422.60" y="338.80" font-size="7.5" font-weight="bold" textLength="141.3" lengthAdjust="spacing">Concentration L-Phenylalanine (μM)</text>
<text transform="translate(385.9,254.5) rotate(-90)" x="0" y="0" font-size="7.4" font-weight="bold" text-anchor="middle" textLength="104.2" lengthAdjust="spacing">% [<tspan baseline-shift="super" font-size="5.6">3</tspan>H]- Gabapentin Uptake</text>
<text x="368.8" y="190.8" font-size="13" font-weight="bold" text-anchor="start" fill="#000" >E</text>
<text x="438.4" y="199.9" font-size="12.6" font-weight="normal" text-anchor="start" fill="#1a1a1a" textLength="9.6" lengthAdjust="spacingAndGlyphs"  stroke="#1a1a1a" stroke-width="0.22">IC</text>
<text x="448.5" y="202.8" font-size="9" font-weight="normal" text-anchor="start" fill="#1a1a1a" textLength="10.0" lengthAdjust="spacingAndGlyphs"  stroke="#1a1a1a" stroke-width="0.22">50</text>
<text x="462.09999999999997" y="199.9" font-size="12.6" font-weight="normal" text-anchor="start" fill="#1a1a1a" textLength="53.8" lengthAdjust="spacingAndGlyphs"  stroke="#1a1a1a" stroke-width="0.22">= 91.8μM</text>
<path d="M442.00,235.96 L443.43,235.97 L444.85,235.97 L446.28,235.98 L447.70,235.98 L449.13,235.99 L450.55,235.99 L451.98,236.00 L453.40,236.01 L454.83,236.02 L456.25,236.02 L457.68,236.04 L459.10,236.05 L460.53,236.06 L461.95,236.07 L463.38,236.09 L464.81,236.11 L466.23,236.13 L467.66,236.15 L469.08,236.18 L470.51,236.20 L471.93,236.23 L473.36,236.27 L474.78,236.31 L476.21,236.35 L477.63,236.40 L479.06,236.45 L480.48,236.51 L481.91,236.58 L483.33,236.65 L484.76,236.73 L486.18,236.82 L487.61,236.93 L489.04,237.04 L490.46,237.16 L491.89,237.30 L493.31,237.46 L494.74,237.63 L496.16,237.82 L497.59,238.03 L499.01,238.27 L500.44,238.53 L501.86,238.81 L503.29,239.13 L504.71,239.48 L506.14,239.87 L507.56,240.29 L508.99,240.76 L510.42,241.28 L511.84,241.85 L513.27,242.47 L514.69,243.15 L516.12,243.89 L517.54,244.69 L518.97,245.57 L520.39,246.51 L521.82,247.54 L523.24,248.64 L524.67,249.82 L526.09,251.08 L527.52,252.42 L528.94,253.85 L530.37,255.35 L531.79,256.93 L533.22,258.59 L534.65,260.31 L536.07,262.09 L537.50,263.92 L538.92,265.79 L540.35,267.70 L541.77,269.63 L543.20,271.57 L544.62,273.50 L546.05,275.43 L547.47,277.33 L548.90,279.20 L550.32,281.03 L551.75,282.80 L553.17,284.51 L554.60,286.15" fill="none" stroke="#111" stroke-width="0.9"/>
<path d="M442.00,228.20 V239.60 M439.90,228.20 H444.10 M439.90,239.60 H444.10" stroke="#222" stroke-width="0.85" fill="none"/>
<path d="M452.30,231.60 V238.90 M450.20,231.60 H454.40 M450.20,238.90 H454.40" stroke="#222" stroke-width="0.85" fill="none"/>
<path d="M462.00,233.00 V243.30 M459.90,233.00 H464.10 M459.90,243.30 H464.10" stroke="#222" stroke-width="0.85" fill="none"/>
<path d="M472.60,232.30 V241.40 M470.50,232.30 H474.70 M470.50,241.40 H474.70" stroke="#222" stroke-width="0.85" fill="none"/>
<path d="M482.50,232.30 V241.80 M480.40,232.30 H484.60 M480.40,241.80 H484.60" stroke="#222" stroke-width="0.85" fill="none"/>
<path d="M493.20,230.60 V246.50 M491.10,230.60 H495.30 M491.10,246.50 H495.30" stroke="#222" stroke-width="0.85" fill="none"/>
<path d="M503.10,233.60 V241.40 M501.00,233.60 H505.20 M501.00,241.40 H505.20" stroke="#222" stroke-width="0.85" fill="none"/>
<path d="M513.30,238.30 V245.50 M511.20,238.30 H515.40 M511.20,245.50 H515.40" stroke="#222" stroke-width="0.85" fill="none"/>
<path d="M523.90,246.50 V253.70 M521.80,246.50 H526.00 M521.80,253.70 H526.00" stroke="#222" stroke-width="0.85" fill="none"/>
<path d="M534.20,255.70 V264.30 M532.10,255.70 H536.30 M532.10,264.30 H536.30" stroke="#222" stroke-width="0.85" fill="none"/>
<path d="M544.40,269.00 V276.20 M542.30,269.00 H546.50 M542.30,276.20 H546.50" stroke="#222" stroke-width="0.85" fill="none"/>
<path d="M554.60,283.30 V289.50 M552.50,283.30 H556.70 M552.50,289.50 H556.70" stroke="#222" stroke-width="0.85" fill="none"/>
<circle cx="442.00" cy="234.20" r="2.35" fill="#000"/>
<circle cx="452.30" cy="235.20" r="2.35" fill="#000"/>
<circle cx="462.00" cy="238.20" r="2.35" fill="#000"/>
<circle cx="472.60" cy="236.70" r="2.35" fill="#000"/>
<circle cx="482.50" cy="237.10" r="2.35" fill="#000"/>
<circle cx="493.20" cy="238.60" r="2.35" fill="#000"/>
<circle cx="503.10" cy="237.30" r="2.35" fill="#000"/>
<circle cx="513.30" cy="241.80" r="2.35" fill="#000"/>
<circle cx="523.90" cy="250.00" r="2.35" fill="#000"/>
<circle cx="534.20" cy="260.20" r="2.35" fill="#000"/>
<circle cx="544.40" cy="272.50" r="2.35" fill="#000"/>
<circle cx="554.60" cy="286.40" r="2.35" fill="#000"/>
<path d="M129.00,38.80 L136.60,43.70 M136.60,43.70 L136.00,53.60 M136.00,53.60 L127.80,58.00 M127.80,58.00 L119.60,53.10 M119.60,53.10 L120.20,43.10 M120.20,43.10 L129.00,38.80 M122.35,43.50 L127.98,40.74 M121.77,52.88 L127.02,56.02 M135.19,45.44 L134.81,51.78 M136.00,53.60 L144.50,59.60 M144.50,59.60 L144.30,66.60 M144.60,70.00 L151.70,73.70 M151.70,73.70 L159.90,69.60 M159.90,69.60 L168.10,74.30 M168.10,74.30 L168.10,84.20 M168.10,84.20 L159.30,88.90 M159.30,88.90 L151.70,83.70 M151.70,83.70 L151.70,73.70 M153.79,74.11 L159.04,71.48 M158.60,86.85 L153.73,83.52 M166.80,76.05 L166.80,82.39 M168.10,74.30 L177.20,73.00 M177.20,73.00 L181.90,81.00 M181.90,81.00 L177.00,87.00 M173.80,88.60 L168.10,84.20 M176.92,75.10 L179.93,80.22 M177.20,73.00 L180.30,64.10 M180.30,64.10 L190.70,62.50 M190.70,62.50 L193.90,53.70 M193.90,53.70 L201.60,51.80 M194.38,53.34 L188.78,45.74 M193.42,54.06 L187.82,46.46" stroke="#7c7c7c" stroke-width="0.72" fill="none" stroke-linecap="round"/>
<path d="M190.70,62.50 L196.00,68.47 L197.20,67.13Z" fill="#7c7c7c"/>
<circle cx="143.7" cy="68.39999999999999" r="1.05" fill="none" stroke="#7c7c7c" stroke-width="0.6"/>
<text x="175.4" y="90.2" font-size="3.0" fill="#5e5e5e" text-anchor="middle">N</text>
<circle cx="203.8" cy="51.5" r="1.05" fill="none" stroke="#7c7c7c" stroke-width="0.6"/>
<text x="198.8" y="70.2" font-size="3.0" fill="#5e5e5e" text-anchor="middle">N</text>
<path d="M312.10,91.40 L321.70,93.00 M321.70,93.00 L324.90,102.40 M324.90,102.40 L317.70,109.90 M317.70,109.90 L308.00,107.80 M308.00,107.80 L305.10,97.90 M305.10,97.90 L312.10,91.40 M323.30,118.80 L333.80,118.00 M333.80,118.00 L339.90,125.20 M339.90,125.20 L336.20,134.00 M336.20,134.00 L326.50,136.10 M326.50,136.10 L320.10,128.40 M320.10,128.40 L323.30,118.80 M324.90,102.40 L333.80,105.90 M333.80,105.90 L333.80,118.00 M317.70,109.90 L323.30,118.80 M313.52,92.95 L319.67,93.98 M322.64,102.88 L318.03,107.68 M308.73,105.65 L306.87,99.32 M325.41,119.94 L332.13,119.43 M338.01,126.35 L335.64,131.98 M326.35,133.89 L322.25,128.96 M333.80,105.90 L343.50,101.40 M343.50,101.40 L350.90,105.80 M353.80,105.80 L360.80,101.40 M360.80,101.40 L368.40,106.10 M371.40,106.10 L378.60,102.00 M378.60,102.00 L387.40,107.20 M387.40,107.20 L396.20,101.40 M396.20,101.40 L404.00,106.00 M361.40,101.40 L361.40,91.80 M360.20,101.40 L360.20,91.80 M396.80,101.40 L396.80,91.80 M395.60,101.40 L395.60,91.80" stroke="#7c7c7c" stroke-width="0.72" fill="none" stroke-linecap="round"/>
<path d="M387.40,107.20 L387.10,114.57 L388.90,114.43Z" fill="#7c7c7c"/>
<circle cx="352.3" cy="106.8" r="1.05" fill="none" stroke="#7c7c7c" stroke-width="0.6"/>
<text x="369.9" y="108.5" font-size="3.0" fill="#5e5e5e" text-anchor="middle">N</text>
<text x="369.9" y="111.2" font-size="2.6" fill="#5e5e5e" text-anchor="middle">H</text>
<circle cx="360.8" cy="90.39999999999999" r="1.05" fill="none" stroke="#7c7c7c" stroke-width="0.6"/>
<circle cx="396.2" cy="90.39999999999999" r="1.05" fill="none" stroke="#7c7c7c" stroke-width="0.6"/>
<text x="406.3" y="108.0" font-size="3.0" fill="#5e5e5e" text-anchor="middle">OH</text>
<text x="389.5" y="118.0" font-size="3.0" fill="#5e5e5e" text-anchor="middle">NH₂</text>
<path d="M647.40,33.70 L656.60,39.80 M656.60,39.80 L654.50,50.40 M654.50,50.40 L644.30,54.50 M644.30,54.50 L635.70,48.40 M635.70,48.40 L637.20,37.80 M637.20,37.80 L647.40,33.70 M679.00,63.30 L689.20,60.40 M689.20,60.40 L697.30,67.70 M697.30,67.70 L695.10,78.60 M695.10,78.60 L684.10,81.30 M684.10,81.30 L676.80,73.50 M676.80,73.50 L679.00,63.30 M639.56,38.25 L646.08,35.63 M654.93,41.57 L653.58,48.36 M643.57,52.39 L638.07,48.49 M681.23,64.02 L687.75,62.16 M695.64,69.34 L694.24,76.32 M683.70,78.97 L679.02,73.98 M654.50,50.40 L661.70,58.60 M661.70,58.60 L670.30,56.00 M672.90,56.50 L679.00,63.30 M676.80,73.50 L668.00,76.00 M697.30,67.70 L707.50,65.50 M707.50,65.50 L716.30,72.80 M716.30,72.80 L726.50,69.90 M726.50,69.90 L733.50,76.50 M716.30,72.80 L715.60,82.00 M727.09,69.99 L728.59,59.69 M725.91,69.81 L727.41,59.51" stroke="#7c7c7c" stroke-width="0.72" fill="none" stroke-linecap="round"/>
<circle cx="671.7" cy="55.599999999999994" r="1.05" fill="none" stroke="#7c7c7c" stroke-width="0.6"/>
<text x="666.0" y="77.6" font-size="3.0" fill="#5e5e5e" text-anchor="middle">H₂N</text>
<text x="716.0" y="85.6" font-size="3.0" fill="#5e5e5e" text-anchor="middle">NH₂</text>
<text x="736.0" y="79.3" font-size="3.0" fill="#5e5e5e" text-anchor="middle">OH</text>
<circle cx="728.0" cy="58.599999999999994" r="1.05" fill="none" stroke="#7c7c7c" stroke-width="0.6"/>
<path d="M205.90,219.80 L214.50,229.30 M214.50,229.30 L209.70,240.20 M209.70,240.20 L199.30,241.10 M199.30,241.10 L190.70,232.60 M190.70,232.60 L194.50,221.70 M194.50,221.70 L205.90,219.80 M247.70,238.80 L251.50,228.80 M251.50,228.80 L263.00,226.50 M263.00,226.50 L270.60,235.40 M270.60,235.40 L266.70,245.90 M266.70,245.90 L255.30,247.80 M255.30,247.80 L247.70,238.80 M206.43,222.32 L211.94,228.40 M207.56,239.09 L200.91,239.67 M192.60,231.09 L195.04,224.11 M249.61,237.44 L252.04,231.04 M263.36,228.92 L268.22,234.62 M264.40,244.97 L257.11,246.18 M214.50,229.30 L224.30,227.90 M226.05,230.34 L233.05,239.04 M227.15,229.46 L234.15,238.16 M237.00,239.40 L247.70,238.80 M270.60,235.40 L282.90,234.50 M282.90,234.50 L289.60,243.00 M289.60,243.00 L301.00,242.10 M301.00,242.10 L309.50,250.00 M301.54,242.37 L307.24,230.97 M300.46,241.83 L306.16,230.43" stroke="#7c7c7c" stroke-width="0.72" fill="none" stroke-linecap="round"/>
<path d="M289.60,243.00 L286.13,252.77 L287.87,253.23Z" fill="#7c7c7c"/>
<text x="226.0" y="229.2" font-size="3.2" fill="#5e5e5e" text-anchor="middle">N</text>
<text x="235.5" y="241.6" font-size="3.2" fill="#5e5e5e" text-anchor="middle">N</text>
<text x="287.5" y="256.5" font-size="3.0" fill="#5e5e5e" text-anchor="middle">NH₂</text>
<text x="311.5" y="253.0" font-size="3.0" fill="#5e5e5e" text-anchor="middle">OH</text>
<text x="305.0" y="266.5" font-size="3.2" fill="#5e5e5e" text-anchor="middle">HCl</text>
<path d="M427.10,281.80 L435.50,286.60 M435.50,286.60 L435.50,296.20 M435.50,296.20 L427.10,301.10 M427.10,301.10 L418.70,296.20 M418.70,296.20 L418.70,286.60 M418.70,286.60 L427.10,281.80 M427.96,283.79 L433.33,286.86 M433.34,295.96 L427.96,299.09 M420.00,294.47 L420.00,288.33 M435.40,258.10 L435.40,268.10 M435.40,268.10 L441.60,271.60 M435.40,268.10 L427.10,272.80 M427.10,272.80 L427.10,281.80 M435.40,258.10 L441.40,255.20 M435.69,257.52 L429.29,254.32 M435.11,258.68 L428.71,255.48" stroke="#2a2a2a" stroke-width="0.95" fill="none" stroke-linecap="round"/>
<text x="427.2" y="255.8" font-size="6.6" fill="#2a2a2a" text-anchor="middle">O</text>
<text x="441.8" y="255.9" font-size="6.4" fill="#2a2a2a">OH</text>
<text x="441.8" y="275.3" font-size="6.2" fill="#2a2a2a">NH<tspan font-size="4.4" dy="0.6">2</tspan></text>
</svg>
</body></html>
